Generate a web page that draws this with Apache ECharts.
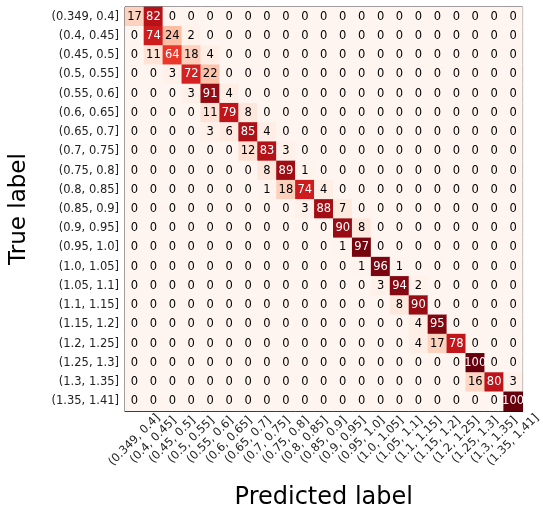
<!DOCTYPE html>
<html>
<head>
<meta charset="utf-8">
<script src="https://cdn.jsdelivr.net/npm/echarts@6/dist/echarts.min.js"></script>
<style>
  html, body { margin: 0; padding: 0; background: #fff; }
  #chart { width: 543px; height: 515px; }
</style>
</head>
<body>
<div id="chart"></div>
<script>
const labels = ['(0.349, 0.4]', '(0.4, 0.45]', '(0.45, 0.5]', '(0.5, 0.55]', '(0.55, 0.6]',
  '(0.6, 0.65]', '(0.65, 0.7]', '(0.7, 0.75]', '(0.75, 0.8]', '(0.8, 0.85]', '(0.85, 0.9]',
  '(0.9, 0.95]', '(0.95, 1.0]', '(1.0, 1.05]', '(1.05, 1.1]', '(1.1, 1.15]', '(1.15, 1.2]',
  '(1.2, 1.25]', '(1.25, 1.3]', '(1.3, 1.35]', '(1.35, 1.41]'];

// rows = true label, cols = predicted label (percent)
const matrix = [
  [17, 82, 0, 0, 0, 0, 0, 0, 0, 0, 0, 0, 0, 0, 0, 0, 0, 0, 0, 0, 0],
  [0, 74, 24, 2, 0, 0, 0, 0, 0, 0, 0, 0, 0, 0, 0, 0, 0, 0, 0, 0, 0],
  [0, 11, 64, 18, 4, 0, 0, 0, 0, 0, 0, 0, 0, 0, 0, 0, 0, 0, 0, 0, 0],
  [0, 0, 3, 72, 22, 0, 0, 0, 0, 0, 0, 0, 0, 0, 0, 0, 0, 0, 0, 0, 0],
  [0, 0, 0, 3, 91, 4, 0, 0, 0, 0, 0, 0, 0, 0, 0, 0, 0, 0, 0, 0, 0],
  [0, 0, 0, 0, 11, 79, 8, 0, 0, 0, 0, 0, 0, 0, 0, 0, 0, 0, 0, 0, 0],
  [0, 0, 0, 0, 3, 6, 85, 4, 0, 0, 0, 0, 0, 0, 0, 0, 0, 0, 0, 0, 0],
  [0, 0, 0, 0, 0, 0, 12, 83, 3, 0, 0, 0, 0, 0, 0, 0, 0, 0, 0, 0, 0],
  [0, 0, 0, 0, 0, 0, 0, 8, 89, 1, 0, 0, 0, 0, 0, 0, 0, 0, 0, 0, 0],
  [0, 0, 0, 0, 0, 0, 0, 1, 18, 74, 4, 0, 0, 0, 0, 0, 0, 0, 0, 0, 0],
  [0, 0, 0, 0, 0, 0, 0, 0, 0, 3, 88, 7, 0, 0, 0, 0, 0, 0, 0, 0, 0],
  [0, 0, 0, 0, 0, 0, 0, 0, 0, 0, 0, 90, 8, 0, 0, 0, 0, 0, 0, 0, 0],
  [0, 0, 0, 0, 0, 0, 0, 0, 0, 0, 0, 1, 97, 0, 0, 0, 0, 0, 0, 0, 0],
  [0, 0, 0, 0, 0, 0, 0, 0, 0, 0, 0, 0, 1, 96, 1, 0, 0, 0, 0, 0, 0],
  [0, 0, 0, 0, 0, 0, 0, 0, 0, 0, 0, 0, 0, 3, 94, 2, 0, 0, 0, 0, 0],
  [0, 0, 0, 0, 0, 0, 0, 0, 0, 0, 0, 0, 0, 0, 8, 90, 0, 0, 0, 0, 0],
  [0, 0, 0, 0, 0, 0, 0, 0, 0, 0, 0, 0, 0, 0, 0, 4, 95, 0, 0, 0, 0],
  [0, 0, 0, 0, 0, 0, 0, 0, 0, 0, 0, 0, 0, 0, 0, 4, 17, 78, 0, 0, 0],
  [0, 0, 0, 0, 0, 0, 0, 0, 0, 0, 0, 0, 0, 0, 0, 0, 0, 0, 100, 0, 0],
  [0, 0, 0, 0, 0, 0, 0, 0, 0, 0, 0, 0, 0, 0, 0, 0, 0, 0, 16, 80, 3],
  [0, 0, 0, 0, 0, 0, 0, 0, 0, 0, 0, 0, 0, 0, 0, 0, 0, 0, 0, 0, 100]
];

// matplotlib "Reds"
const reds = ['#fff5f0', '#fee0d2', '#fcbba1', '#fc9272', '#fb6a4a', '#ef3b2c', '#cb181d', '#a50f15', '#67000d'];

const cells = [];
matrix.forEach((row, i) => {
  row.forEach((v, j) => {
    cells.push({ value: [j, i, v], label: { color: v > 50 ? '#fff' : '#000' } });
  });
});

const font = 'DejaVu Sans';
const chart = echarts.init(document.getElementById('chart'));
chart.setOption({
  animation: false,
  textStyle: { fontFamily: font },
  grid: { left: 117, top: 7, right: 15, bottom: 95, show: true, borderColor: '#000', borderWidth: 1 },
  xAxis: {
    type: 'category',
    data: labels,
    name: 'Predicted label',
    nameLocation: 'middle',
    nameGap: 75,
    nameTextStyle: { fontSize: 24, color: '#000', fontFamily: font },
    axisLine: { lineStyle: { color: '#000' } },
    axisTick: { alignWithLabel: true, length: 4, lineStyle: { color: '#000' } },
    // matplotlib rotation=45 with centred alignment: label box centred under the tick
    axisLabel: {
      rotate: 45, align: 'center', verticalAlign: 'middle', margin: 29,
      fontSize: 11.5, color: '#222', interval: 0, fontFamily: font
    },
    splitLine: { show: false }
  },
  yAxis: {
    type: 'category',
    data: labels,
    inverse: true,
    name: 'True label',
    nameLocation: 'middle',
    nameGap: 94,
    nameRotate: 90,
    nameTextStyle: { fontSize: 23, color: '#000', fontFamily: font },
    axisLine: { lineStyle: { color: '#000' } },
    axisTick: { alignWithLabel: true, length: 4, lineStyle: { color: '#000' } },
    axisLabel: { fontSize: 11.5, color: '#222', margin: 6, interval: 0, fontFamily: font },
    splitLine: { show: false }
  },
  visualMap: {
    show: false,
    type: 'continuous',
    min: 0,
    max: 100,
    dimension: 2,
    inRange: { color: reds }
  },
  series: [{
    type: 'heatmap',
    data: cells,
    label: { show: true, fontSize: 11.5, fontFamily: font },
    itemStyle: { borderWidth: 0 }
  }]
});
</script>
</body>
</html>
